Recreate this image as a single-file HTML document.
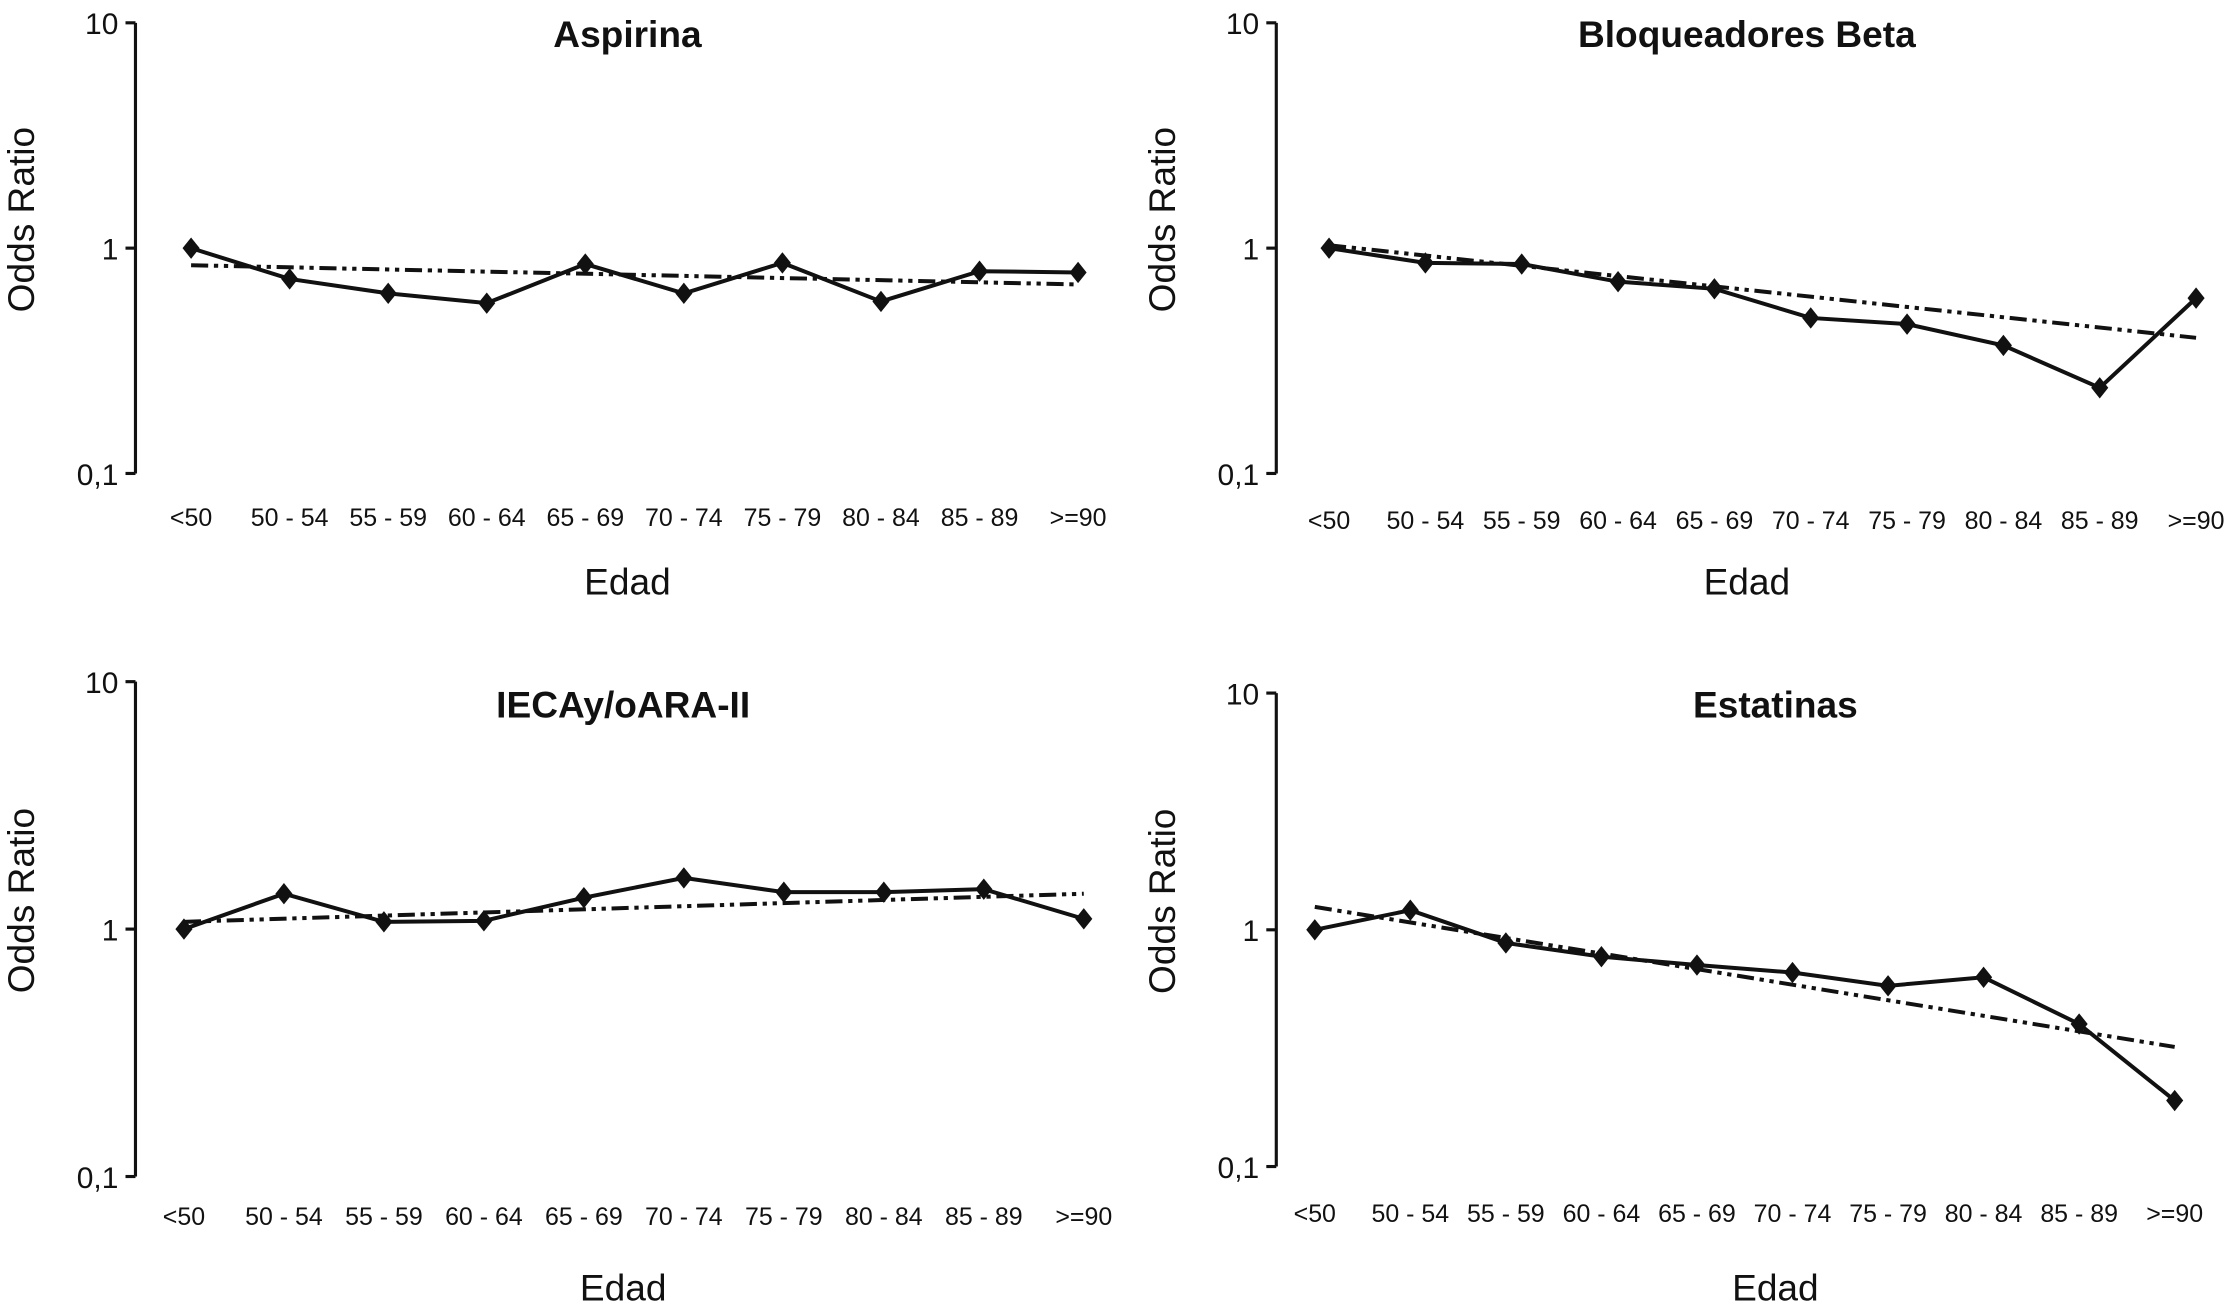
<!DOCTYPE html>
<html><head><meta charset="utf-8"><style>
html,body{margin:0;padding:0;background:#fff;}
svg{display:block;font-family:"Liberation Sans",sans-serif;}
</style></head><body>
<svg id="chart" width="2236" height="1311" viewBox="0 0 1568 919.3" preserveAspectRatio="none" xmlns="http://www.w3.org/2000/svg"></svg>
<script>
const categories = ["<50","50 - 54","55 - 59","60 - 64","65 - 69","70 - 74","75 - 79","80 - 84","85 - 89",">=90"];
const titles = ["Aspirina","Bloqueadores Beta","IECAy/oARA-II","Estatinas"];
const aspirinaValues = [1.0,0.73,0.63,0.57,0.85,0.63,0.86,0.58,0.79,0.78];
const betaValues = [1.0,0.86,0.85,0.71,0.66,0.49,0.46,0.37,0.24,0.60];
const iecaValues = [1.0,1.39,1.07,1.08,1.34,1.61,1.41,1.41,1.45,1.10];
const estatinasValues = [1.0,1.21,0.88,0.77,0.71,0.66,0.58,0.63,0.40,0.19];
const trendStart = [0.84,1.03,1.07,1.25];
const trendEnd = [0.69,0.40,1.39,0.32];
const yTickValues = [10,1,0.1];
const yTickLabels = ["10","1","0,1"];

const series=[aspirinaValues,betaValues,iecaValues,estatinasValues];
const panels=[
 {ax:95,top:16,bot:332,x0:134,x1:756,lab:363,edad:408,tx:440,ty:24,trX0:134,trX1:756},
 {ax:895,top:16,bot:332,x0:932,x1:1540,lab:365,edad:408,tx:1225,ty:24,trX0:932,trX1:1540},
 {ax:95,top:478,bot:825,x0:129,x1:760,lab:853,edad:903,tx:437,ty:494,trX0:129,trX1:760},
 {ax:895,top:486,bot:818,x0:922,x1:1525,lab:851,edad:903,tx:1245,ty:494,trX0:922,trX1:1525}
];
const svg=document.getElementById('chart');
const NS="http://www.w3.org/2000/svg";
function mk(tag,attrs,parent){const e=document.createElementNS(NS,tag);for(const k in attrs)e.setAttribute(k,attrs[k]);(parent||svg).appendChild(e);return e;}
panels.forEach((p,i)=>{
  const g=mk('g',{});
  
  
  const yS=v=>p.bot-(Math.log10(v)+1)/2*(p.bot-p.top);
  const xS=j=>p.x0+j*(p.x1-p.x0)/(categories.length-1);
  const axis=mk('line',{x1:p.ax,y1:p.top,x2:p.ax,y2:p.bot,stroke:'#111','stroke-width':2.2},g);
  
  
  yTickValues.forEach((v,k)=>{
    mk('line',{x1:p.ax-7,y1:yS(v),x2:p.ax,y2:yS(v),stroke:'#111','stroke-width':2.2},g);
    const t=mk('text',{x:p.ax-12,y:yS(v)+8,'text-anchor':'end','font-size':21,fill:'#111'},g);
    t.textContent=yTickLabels[k];
    
    
  });
  const yl=mk('text',{x:0,y:0,'text-anchor':'middle','font-size':26,fill:'#111',transform:`translate(${p.ax-71},${(p.top+p.bot)/2-20}) rotate(-90)`},g);
  yl.textContent='Odds Ratio';
  
  
  const tt=mk('text',{x:p.tx,y:p.ty+9,'text-anchor':'middle','font-size':26,'font-weight':'bold',fill:'#111'},g);
  tt.textContent=titles[i];
  
  
  categories.forEach((c,j)=>{
    const t=mk('text',{x:xS(j),y:p.lab+6,'text-anchor':'middle','font-size':17.5,fill:'#111'},g);
    t.textContent=c;
    
    
  });
  const ed=mk('text',{x:p.tx,y:p.edad+9,'text-anchor':'middle','font-size':26,fill:'#111'},g);
  ed.textContent='Edad';
  
  
  const tr=mk('line',{x1:p.trX0,y1:yS(trendStart[i]),x2:p.trX1,y2:yS(trendEnd[i]),stroke:'#111','stroke-width':2.8,'stroke-dasharray':'12 4 3 4 3 4'},g);
  
  
  const vals=series[i];
  const pl=mk('polyline',{points:vals.map((v,j)=>xS(j)+','+yS(v)).join(' '),fill:'none',stroke:'#111','stroke-width':2.8},g);
  
  
  vals.forEach((v,j)=>{
    const x=xS(j),y=yS(v);
    const m=mk('polygon',{points:`${x},${y-7.5} ${x+6},${y} ${x},${y+7.5} ${x-6},${y}`,fill:'#111'},g);
    
    
  });
});
</script>
</body></html>
